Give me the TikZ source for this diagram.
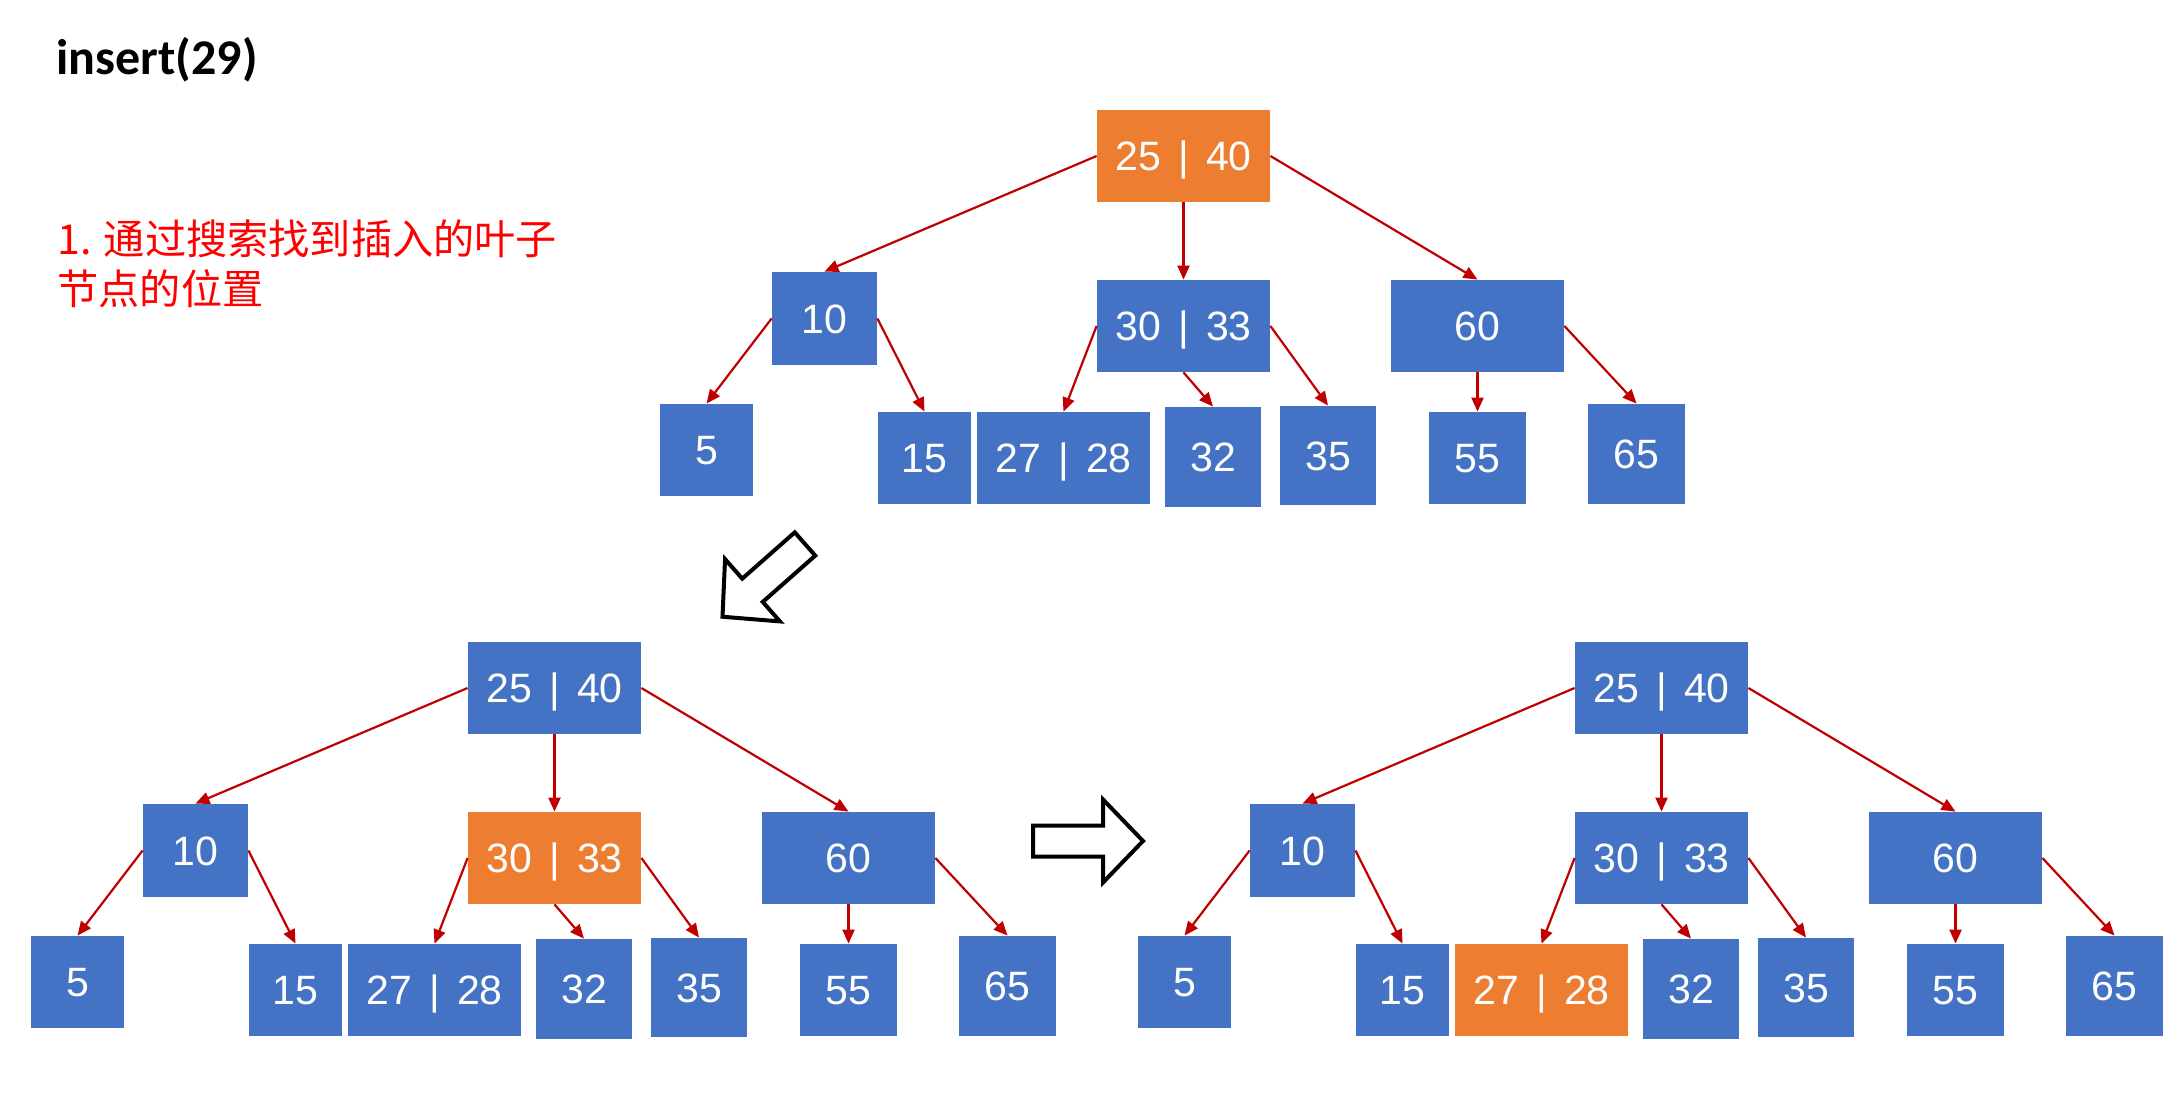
\documentclass[tikz,border=0pt]{standalone}
\usepackage{fontspec}
\setmainfont{Liberation Sans}
\newfontfamily\titlefont{Carlito}
\newfontfamily\cjkfont{Noto Sans CJK SC}
\usetikzlibrary{arrows.meta}
\definecolor{keyblue}{HTML}{4472C4}
\definecolor{keyorange}{HTML}{ED7D31}
\definecolor{linkred}{HTML}{C00000}
\newcommand{\keysep}{\hspace{0.42em}|\hspace{0.42em}}

\begin{document}
\begin{tikzpicture}[
    x=0.5pt, y=-0.5pt,
    key/.style={inner sep=0pt, text=white, minimum width=46.5pt, minimum height=46pt,
      text height=14.7pt, text depth=0pt, font=\fontsize{20.5}{24}\selectfont},
    wide/.style={minimum width=86.5pt},
    cold/.style={fill=keyblue}, hot/.style={fill=keyorange},
    link/.style={draw=linkred, line width=1.1pt, -{Triangle[length=7pt,width=6pt]}},
    bigarrow/.style={draw, line width=2pt, fill=white},
  ]
  \useasboundingbox (0,0) rectangle (2183,1117);
  % title and note
  \node[font=\titlefont\bfseries\fontsize{25}{30}\selectfont, anchor=base west, inner sep=0pt]
    (title) at (56,75) {insert(29)};
  \node[font=\cjkfont\fontsize{20.6}{25}\selectfont, text=red, anchor=base west,
    align=left, inner sep=0pt] (note) at (57,305) {1. 通过搜索找到插入的叶子\\节点的位置};
  % the tree three times: prefix / shift / fill of 25|40, 30|33, 27|28
  \foreach \t/\dx/\dy/\sa/\sb/\sc in {t/629/-532/hot/cold/cold, l/0/0/cold/hot/cold,
      r/1107/0/cold/cold/hot} {
    \begin{scope}[shift={(\dx,\dy)}]
      \node[key, wide, \sa] (\t-k25) at (554.5,688) {25\keysep40};
      \node[key, cold, minimum width=52.5pt, minimum height=46.5pt] (\t-k10) at (195.5,850.5) {10};
      \node[key, wide, \sb] (\t-k30) at (554.5,858) {30\keysep33};
      \node[key, wide, cold] (\t-k60) at (848.5,858) {60};
      \node[key, cold] (\t-k5) at (77.5,982) {5};
      \node[key, cold] (\t-k15) at (295.5,990) {15};
      \node[key, wide, \sc] (\t-k27) at (434.5,990) {27\keysep28};
      \node[key, cold, minimum width=48pt, minimum height=50pt] (\t-k32) at (584,989) {32};
      \node[key, cold, minimum width=48pt, minimum height=49.5pt] (\t-k35) at (699,987.5) {35};
      \node[key, cold, minimum width=48.5pt] (\t-k55) at (848.5,990) {55};
      \node[key, cold, minimum width=48.5pt, minimum height=50pt] (\t-k65) at (1007.5,986) {65};
    \end{scope}
    \foreach \a/\b in {k25.west/k10.north, k25.south/k30.north, k25.east/k60.north,
        k10.west/k5.north, k10.east/k15.north, k30.west/k27.north, k30.south/k32.north,
        k30.east/k35.north, k60.south/k55.north, k60.east/k65.north}
      \draw[link] (\t-\a) -- (\t-\b);
  }
  % step arrows
  \draw[bigarrow, shift={(805,544)}, rotate=-138.6] (0,-15.5) -- (70,-15.5) -- (70,-41.5)
    -- (110,0) -- (70,41.5) -- (70,15.5) -- (0,15.5) -- cycle;
  \draw[bigarrow, shift={(1033,841)}] (0,-15.5) -- (70,-15.5) -- (70,-41.5)
    -- (110,0) -- (70,41.5) -- (70,15.5) -- (0,15.5) -- cycle;
\end{tikzpicture}
\end{document}
